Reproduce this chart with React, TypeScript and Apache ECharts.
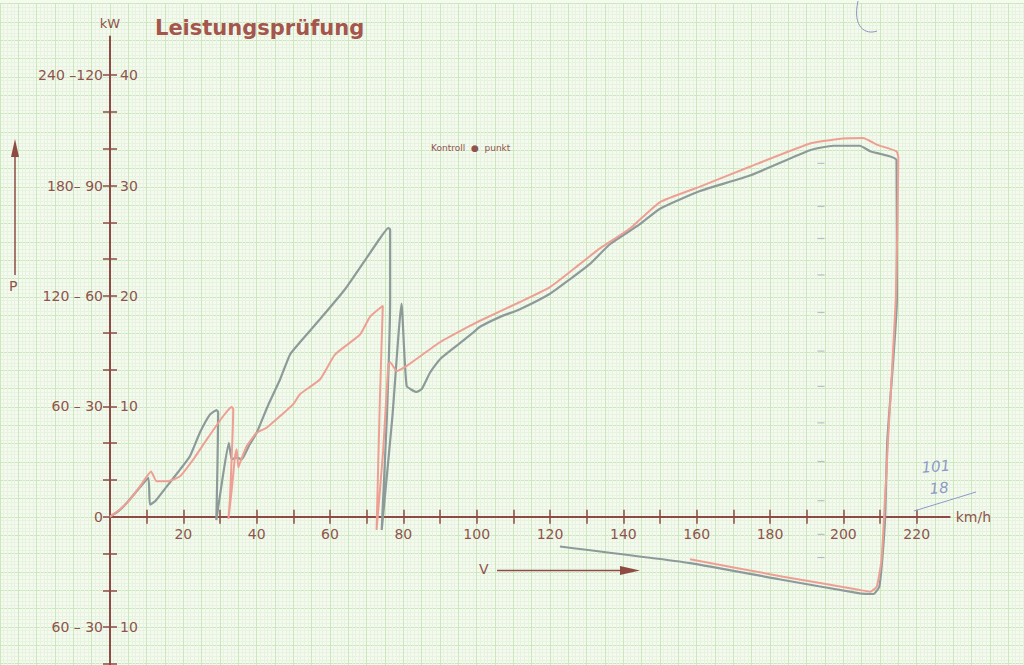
import React, { useEffect, useRef } from "react";
import * as echarts from "echarts";

// ---- data (km/h, kW) ----
const grayCurve: [number, number][] = [
  [0, 0], [2.3, 0.5], [4.55, 1.25], [7.5, 2.4], [10.45, 3.52], [10.9, 1.09], [12.3, 1.39], [15.5, 2.75],
  [19.1, 4.27], [21.8, 5.48], [24.5, 7.61], [27.3, 9.27], [29.1, 9.66], [29.5, 9.45], [29.3, 4.5], [29.0, -0.3],
  [30.7, 3.5], [32.4, 6.7], [33.2, 5.2], [34.5, 5.35], [35.9, 5.2], [38, 6.5], [40, 7.6], [43, 10], [46.4, 12.45],
  [49.1, 14.7], [51.8, 15.8], [57.3, 17.9], [64.1, 20.6], [69.5, 23.2], [73.6, 25.2], [75.9, 26.15], [76.4, 26.0],
  [76.4, 19.7], [75.5, 9], [74.1, -1.2], [77, 9], [79.5, 19.3], [80.9, 11.85], [83.6, 11.3], [85.0, 11.55],
  [87.3, 13.06], [90, 14.27], [94.5, 15.48], [99.1, 16.7], [100.9, 17.2], [106.4, 18.1], [111.8, 18.8], [120, 20.2],
  [125.4, 21.5], [130.9, 22.9], [136.4, 24.7], [144.5, 26.5], [150, 27.9], [160.9, 29.5], [174.5, 30.9], [190.9, 33.2],
  [197.3, 33.6], [204.5, 33.6], [207.3, 33.1], [214.5, 32.3], [214.6, 19.7], [212.0, 7.0], [211.4, 0], [210.6, -3.9],
  [209.8, -6.34], [208.2, -7.0], [204.5, -6.94], [183.6, -5.73], [158.2, -4.2], [122.7, -2.7],
];

const redCurve: [number, number][] = [
  [0, 0], [2.5, 0.6], [5.45, 1.55], [8.5, 2.9], [11.2, 4.1], [12.7, 3.2], [15.5, 3.2], [19.1, 3.66], [22.7, 5.18],
  [26.4, 7.0], [30.9, 9.12], [33.2, 9.94], [33.6, 9.73], [32.7, 1.5], [32.3, -0.2], [33.2, 2.45], [34.1, 5.48],
  [34.55, 6.1], [35.0, 4.45], [35.45, 4.9], [37.3, 6.4], [40, 7.6], [42.7, 8.06], [46.4, 9.12], [50, 10.2],
  [51.8, 11.1], [57.3, 12.45], [61.4, 14.7], [68.2, 16.5], [70.9, 18.1], [74.4, 19.1], [73.6, 10.6], [72.7, -1.2],
  [74.5, 6], [75.9, 13.8], [76.4, 14.0], [78.2, 13.2], [80.9, 13.66], [90, 15.8], [99.1, 17.45], [100.9, 17.75],
  [111.8, 19.45], [120, 20.8], [128.2, 22.9], [133.6, 24.3], [141.8, 26.1], [150, 28.5], [160.9, 29.9], [174.5, 31.7],
  [190.9, 33.8], [198.2, 34.2], [205.4, 34.3], [209.1, 33.7], [214.5, 33.1], [215.0, 32.5], [214.3, 19.7],
  [212.2, 7.0], [211.1, 0], [210.4, -3.9], [209.1, -6.34], [207.3, -6.8], [204.5, -6.64], [183.6, -5.43], [158.2, -3.85],
];

const pencilMarkX = 193.9;
const pencilMarkY = [32, 28.1, 25.2, 21.9, 18.5, 15, 11.8, 8.5, 5, 1.45, -1.6, -3.7];

const xTickValues = [10, 20, 30, 40, 50, 60, 70, 80, 90, 100, 110, 120, 130, 140, 150, 160, 170, 180, 190, 200, 210, 220];
const xLabelValues = [20, 40, 60, 80, 100, 120, 140, 160, 180, 200, 220];
const yTickValues = [-13.333, -10, -6.667, -3.333, 0, 3.333, 6.667, 10, 13.333, 16.667, 20, 23.333, 26.667, 30, 33.333, 36.667, 40];
const yLabelValues = [-10, 0, 10, 20, 30, 40];
const yLeftLabels = ["60 – 30", "0", "60 – 30", "120 – 60", "180– 90", "240 –120"];
const yRightLabels = ["10", "", "10", "20", "30", "40"];

const BROWN = "#8e4b44";
const LABEL = "#8f544c";
const RED = "#ee9f94";
const GRAY = "#8c9a99";
const PENCIL = "#8d9ac9";

const Y_MIN = -13.5;
const Y_MAX = 43.5;
const PX_PER_KW = 11.04;
const ORIGIN_Y = 516.7;

export default function App() {
  const ref = useRef<HTMLDivElement>(null);
  useEffect(() => {
    if (!ref.current) return;
    const chart = echarts.init(ref.current, undefined, { renderer: "svg" });
    const labelFont = { fontFamily: "DejaVu Sans", fontSize: 14, color: LABEL };
    const zeroOffset = -(0 - Y_MIN) * PX_PER_KW;
    const option: any = {
      animation: false,
      backgroundColor: "#f5faef",
      grid: [
        { left: 110, top: ORIGIN_Y - Y_MAX * PX_PER_KW, width: 839.7, height: (Y_MAX - Y_MIN) * PX_PER_KW, containLabel: false, outerBoundsMode: "none" },
        { left: 0, top: 3.67, width: 1024, height: 661.33, containLabel: false, outerBoundsMode: "none" },
      ],
      xAxis: [
        {
          type: "value", gridIndex: 0, min: 0, max: 229, position: "bottom", offset: zeroOffset,
          axisLine: { show: true, onZero: false, lineStyle: { color: BROWN, width: 2 } },
          axisTick: { show: true, customValues: xTickValues, length: 7, lineStyle: { color: BROWN, width: 1.5 } },
          axisLabel: { show: true, customValues: xLabelValues, margin: 10, ...labelFont },
          splitLine: { show: false },
          name: "km/h", nameLocation: "end", nameGap: 6,
          nameTextStyle: { ...labelFont, fontSize: 14, verticalAlign: "middle" },
        },
        {
          type: "value", gridIndex: 0, min: 0, max: 229, position: "bottom", offset: zeroOffset,
          axisLine: { show: false, onZero: false },
          axisTick: { show: true, inside: true, customValues: xTickValues, length: 7, lineStyle: { color: BROWN, width: 1.5 } },
          axisLabel: { show: false },
          splitLine: { show: false },
        },
        {
          type: "value", gridIndex: 1, min: 0, max: 279.25, interval: 5,
          axisLine: { show: false }, axisTick: { show: false }, axisLabel: { show: false },
          minorTick: { show: false, splitNumber: 5 },
          splitLine: { show: true, lineStyle: { color: "#cae8bc", width: 1 } },
          minorSplitLine: { show: true, lineStyle: { color: "#e7f3e0", width: 1 } },
        },
      ],
      yAxis: [
        {
          type: "value", gridIndex: 0, min: Y_MIN, max: Y_MAX, position: "left",
          axisLine: { show: true, onZero: false, lineStyle: { color: BROWN, width: 2 } },
          axisTick: { show: true, customValues: yTickValues, length: 7, lineStyle: { color: BROWN, width: 1.5 } },
          axisLabel: {
            show: true, customValues: yLabelValues, margin: 7, ...labelFont,
            formatter: (v: number) => yLeftLabels[yLabelValues.indexOf(Math.round(v))] ?? "",
          },
          splitLine: { show: false },
          name: "kW", nameLocation: "end", nameGap: 6,
          nameTextStyle: { ...labelFont, fontSize: 13, align: "center" },
        },
        {
          type: "value", gridIndex: 0, min: Y_MIN, max: Y_MAX, position: "left", offset: 0,
          axisLine: { show: false, onZero: false },
          axisTick: { show: true, inside: true, customValues: yTickValues, length: 7, lineStyle: { color: BROWN, width: 1.5 } },
          axisLabel: {
            show: true, inside: true, customValues: yLabelValues, margin: 10, ...labelFont,
            formatter: (v: number) => yRightLabels[yLabelValues.indexOf(Math.round(v))] ?? "",
          },
          splitLine: { show: false },
        },
        {
          type: "value", gridIndex: 1, min: 0, max: 180.36, interval: 5, inverse: true,
          axisLine: { show: false }, axisTick: { show: false }, axisLabel: { show: false },
          minorTick: { show: false, splitNumber: 5 },
          splitLine: { show: true, lineStyle: { color: "#cae8bc", width: 1 } },
          minorSplitLine: { show: true, lineStyle: { color: "#e7f3e0", width: 1 } },
        },
      ],
      series: [
        {
          type: "line", name: "grau", xAxisIndex: 0, yAxisIndex: 0, data: grayCurve,
          showSymbol: false, symbol: "none", smooth: 0.15, z: 5,
          lineStyle: { color: GRAY, width: 2.2 },
        },
        {
          type: "line", name: "rot", xAxisIndex: 0, yAxisIndex: 0, data: redCurve,
          showSymbol: false, symbol: "none", smooth: 0.15, z: 6,
          lineStyle: { color: RED, width: 2 },
        },
        {
          type: "scatter", name: "pencil", xAxisIndex: 0, yAxisIndex: 0,
          data: pencilMarkY.map((y) => [pencilMarkX, y]),
          symbol: "rect", symbolSize: [7, 1.2],
          itemStyle: { color: "#8a8fa0", opacity: 0.55 }, z: 3, silent: true,
        },
      ],
      graphic: {
        elements: [
          {
            type: "text", left: 155, top: 17, z: 100,
            style: { text: "Leistungsprüfung", fill: "#a4554c", font: "bold 21px 'DejaVu Sans'" },
          },
          {
            type: "text", left: 431, top: 143, z: 100,
            style: { text: "Kontroll  ●  punkt", fill: "#8f544c", font: "9px 'DejaVu Sans'" },
          },
          // P arrow
          { type: "line", z: 100, shape: { x1: 15, y1: 152, x2: 15, y2: 275 }, style: { stroke: BROWN, lineWidth: 1.5 } },
          { type: "polygon", z: 100, shape: { points: [[15, 139], [11, 157], [19, 157]] }, style: { fill: BROWN } },
          { type: "text", z: 100, left: 9, top: 279, style: { text: "P", fill: LABEL, font: "14px 'DejaVu Sans'" } },
          // V arrow
          { type: "text", z: 100, left: 479, top: 562, style: { text: "V", fill: LABEL, font: "14px 'DejaVu Sans'" } },
          { type: "line", z: 100, shape: { x1: 497, y1: 570.5, x2: 626, y2: 570.5 }, style: { stroke: BROWN, lineWidth: 1.5 } },
          { type: "polygon", z: 100, shape: { points: [[640, 570.5], [620, 566], [620, 575]] }, style: { fill: BROWN } },
          // pencil handwriting
          { type: "text", z: 100, left: 921, top: 458, rotation: 0.08, style: { text: "101", fill: PENCIL, font: "italic 15px 'DejaVu Sans'" } },
          { type: "text", z: 100, left: 929, top: 480, rotation: 0.08, style: { text: "18", fill: PENCIL, font: "italic 15px 'DejaVu Sans'" } },
          { type: "line", z: 100, shape: { x1: 914, y1: 511, x2: 976, y2: 492 }, style: { stroke: PENCIL, lineWidth: 1 } },
          {
            type: "bezierCurve", z: 100,
            shape: { x1: 858, y1: 1, x2: 877, y2: 31, cpx1: 852, cpy1: 28, cpx2: 866, cpy2: 35 },
            style: { stroke: "#8d92c0", lineWidth: 1, fill: "none" },
          },
        ],
      },
    };
    chart.setOption(option);
    return () => chart.dispose();
  }, []);
  return <div ref={ref} style={{ position: "fixed", left: 0, top: 0, width: 1024, height: 665 }} />;
}
